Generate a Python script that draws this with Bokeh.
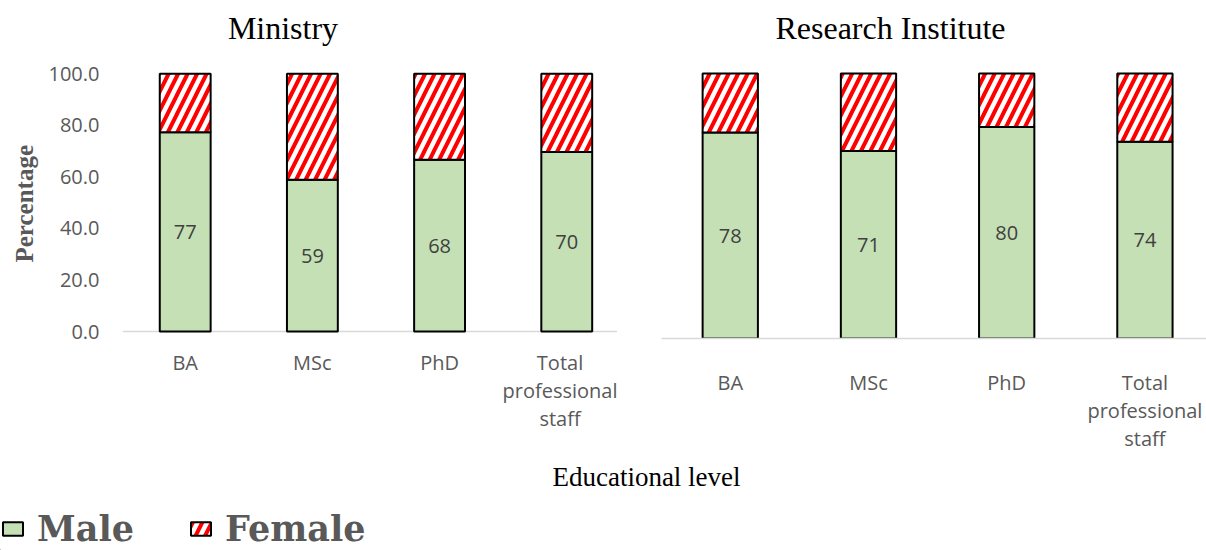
from bokeh.plotting import figure
from bokeh.models import (Label, Legend, LegendItem, FixedTicker, Range1d, Title, Span,
                          ColumnDataSource, PrintfTickFormatter)
from bokeh.layouts import column, row
from bokeh.core.properties import value
from bokeh.embed import file_html
from bokeh.resources import INLINE

# ---------------- data ----------------
tick_labels = ["BA", "MSc", "PhD", "Total\nprofessional\nstaff"]
ministry_male = [77.3, 58.9, 66.6, 69.7]
ministry_female = [22.7, 41.1, 33.4, 30.3]
ministry_labels = ["77", "59", "68", "70"]
institute_male = [77.7, 70.8, 79.8, 74.2]
institute_female = [22.3, 29.2, 20.2, 25.8]
institute_labels = ["78", "71", "80", "74"]
y_ticks = [0, 20, 40, 60, 80, 100]

GREEN = "#c5e0b4"
TICK_COLOR = "#595959"
LABEL_COLOR = "#404040"
AXIS_COLOR = "#d9d9d9"
TICK_FONT = "Open Sans"
SERIF = "Liberation Serif"
HATCH = dict(fill_color="white", hatch_pattern="/", hatch_color="#ff0000",
             hatch_weight=4, hatch_scale=19)


def panel(male, female, labels, width, height, xr, yr, bl, bb, standoff, show_y,
          span_base):
    xs = list(range(len(male)))
    src = ColumnDataSource(dict(
        x=xs, male=male, female=female,
        ftop=[m + f for m, f in zip(male, female)],
        mid=[m / 2 for m in male], lab=labels))
    p = figure(width=width, height=height, x_range=Range1d(*xr), y_range=Range1d(*yr),
               output_backend="svg", toolbar_location=None,
               min_border_left=bl, min_border_right=0, min_border_top=0,
               min_border_bottom=bb, y_axis_type="linear" if show_y else None)
    if span_base:
        p.add_layout(Span(location=0, dimension="width", line_color=AXIS_COLOR,
                          line_width=1.5, level="underlay"))
    p.vbar(x="x", bottom=0, top="male", width=0.4, source=src,
           fill_color=GREEN, line_color="black", line_width=2)
    p.vbar(x="x", bottom="male", top="ftop", width=0.4, source=src,
           line_color="black", line_width=2, **HATCH)
    p.text(x="x", y="mid", text="lab", source=src, text_align="center",
           text_baseline="middle", text_font=value(TICK_FONT),
           text_font_size="20px", text_color=LABEL_COLOR)
    p.xgrid.grid_line_color = None
    p.ygrid.grid_line_color = None
    p.outline_line_color = None
    p.background_fill_color = "white"
    xa = p.xaxis[0]
    xa.ticker = FixedTicker(ticks=xs)
    xa.major_label_overrides = {i: t for i, t in zip(xs, tick_labels)}
    xa.axis_line_color = None if span_base else AXIS_COLOR
    xa.axis_line_width = 1.5
    xa.major_tick_line_color = None
    xa.minor_tick_line_color = None
    xa.major_tick_out = 0
    xa.major_label_standoff = standoff
    xa.major_label_text_font = TICK_FONT
    xa.major_label_text_font_size = "20px"
    xa.major_label_text_color = TICK_COLOR
    xa.major_label_text_line_height = 1.04
    if show_y:
        ya = p.yaxis[0]
        ya.ticker = FixedTicker(ticks=y_ticks)
        ya.formatter = PrintfTickFormatter(format="%.1f")
        ya.axis_line_color = None
        ya.major_tick_line_color = None
        ya.minor_tick_line_color = None
        ya.major_tick_out = 0
        ya.major_label_standoff = 23
        ya.major_label_text_font = TICK_FONT
        ya.major_label_text_font_size = "20px"
        ya.major_label_text_color = TICK_COLOR
    return p


H = 462
FRAME_BOTTOM = 338  # both frames end here (row aligns them)
# left panel: 2.577 px per unit, zero at y=331 px
p1 = panel(ministry_male, ministry_female, ministry_labels, 617, H,
           (-0.493, 3.399), (-7 / 2.577, 331 / 2.577), 122, H - FRAME_BOTTOM, 10, True,
           True)
p1.add_layout(Label(x=282.5, y=27, x_units="canvas", y_units="canvas", text="Ministry",
                    text_align="center", text_baseline="middle", text_font=SERIF,
                    text_font_size="32px", text_color="black"))
p1.add_layout(Title(text="Percentage", align="left", offset=76, standoff=15,
                    text_font=SERIF, text_font_style="bold", text_font_size="25px",
                    text_color=TICK_COLOR), "left")

# right panel: 2.65 px per unit, zero at y=338 px
p2 = panel(institute_male, institute_female, institute_labels, 589, H,
           (-0.4975, 3.4455), (0, 338 / 2.65), 44, H - FRAME_BOTTOM, 30, False, False)
p2.add_layout(Label(x=273, y=27, x_units="canvas", y_units="canvas",
                    text="Research Institute", text_align="center", text_baseline="middle",
                    text_font=SERIF, text_font_size="32px", text_color="black"))

# bottom strip: axis title + legend
p3 = figure(width=1206, height=550 - H, x_range=Range1d(0, 1), y_range=Range1d(0, 1),
            output_backend="svg", toolbar_location=None, x_axis_type=None,
            y_axis_type=None, min_border=0)
p3.outline_line_color = None
p3.xgrid.grid_line_color = None
p3.ygrid.grid_line_color = None
p3.add_layout(Label(x=646, y=14, x_units="canvas", y_units="canvas",
                    text="Educational level", text_align="center", text_baseline="middle",
                    text_font=SERIF, text_font_size="27px", text_color="black"))
proxy_x = [-5]
proxy_top = [0]
r_m = p3.vbar(x=proxy_x, top=proxy_top, width=0.1, fill_color=GREEN,
              line_color="black", line_width=2)
r_f = p3.vbar(x=proxy_x, top=proxy_top, width=0.1, line_color="black", line_width=2,
              **HATCH)
legend = Legend(items=[LegendItem(label="Male", renderers=[r_m]),
                       LegendItem(label="Female", renderers=[r_f])],
                orientation="horizontal", location=(0, 1), glyph_width=25,
                glyph_height=17, label_standoff=12, spacing=54, padding=0, margin=0,
                border_line_color=None, background_fill_alpha=0,
                label_text_font="DejaVu Serif", label_text_font_style="bold",
                label_text_font_size="35px", label_text_color=TICK_COLOR)
p3.add_layout(legend)

layout = column(row(p1, p2, spacing=0), p3, spacing=0)
open("out.html", "w").write(file_html(layout, INLINE))
